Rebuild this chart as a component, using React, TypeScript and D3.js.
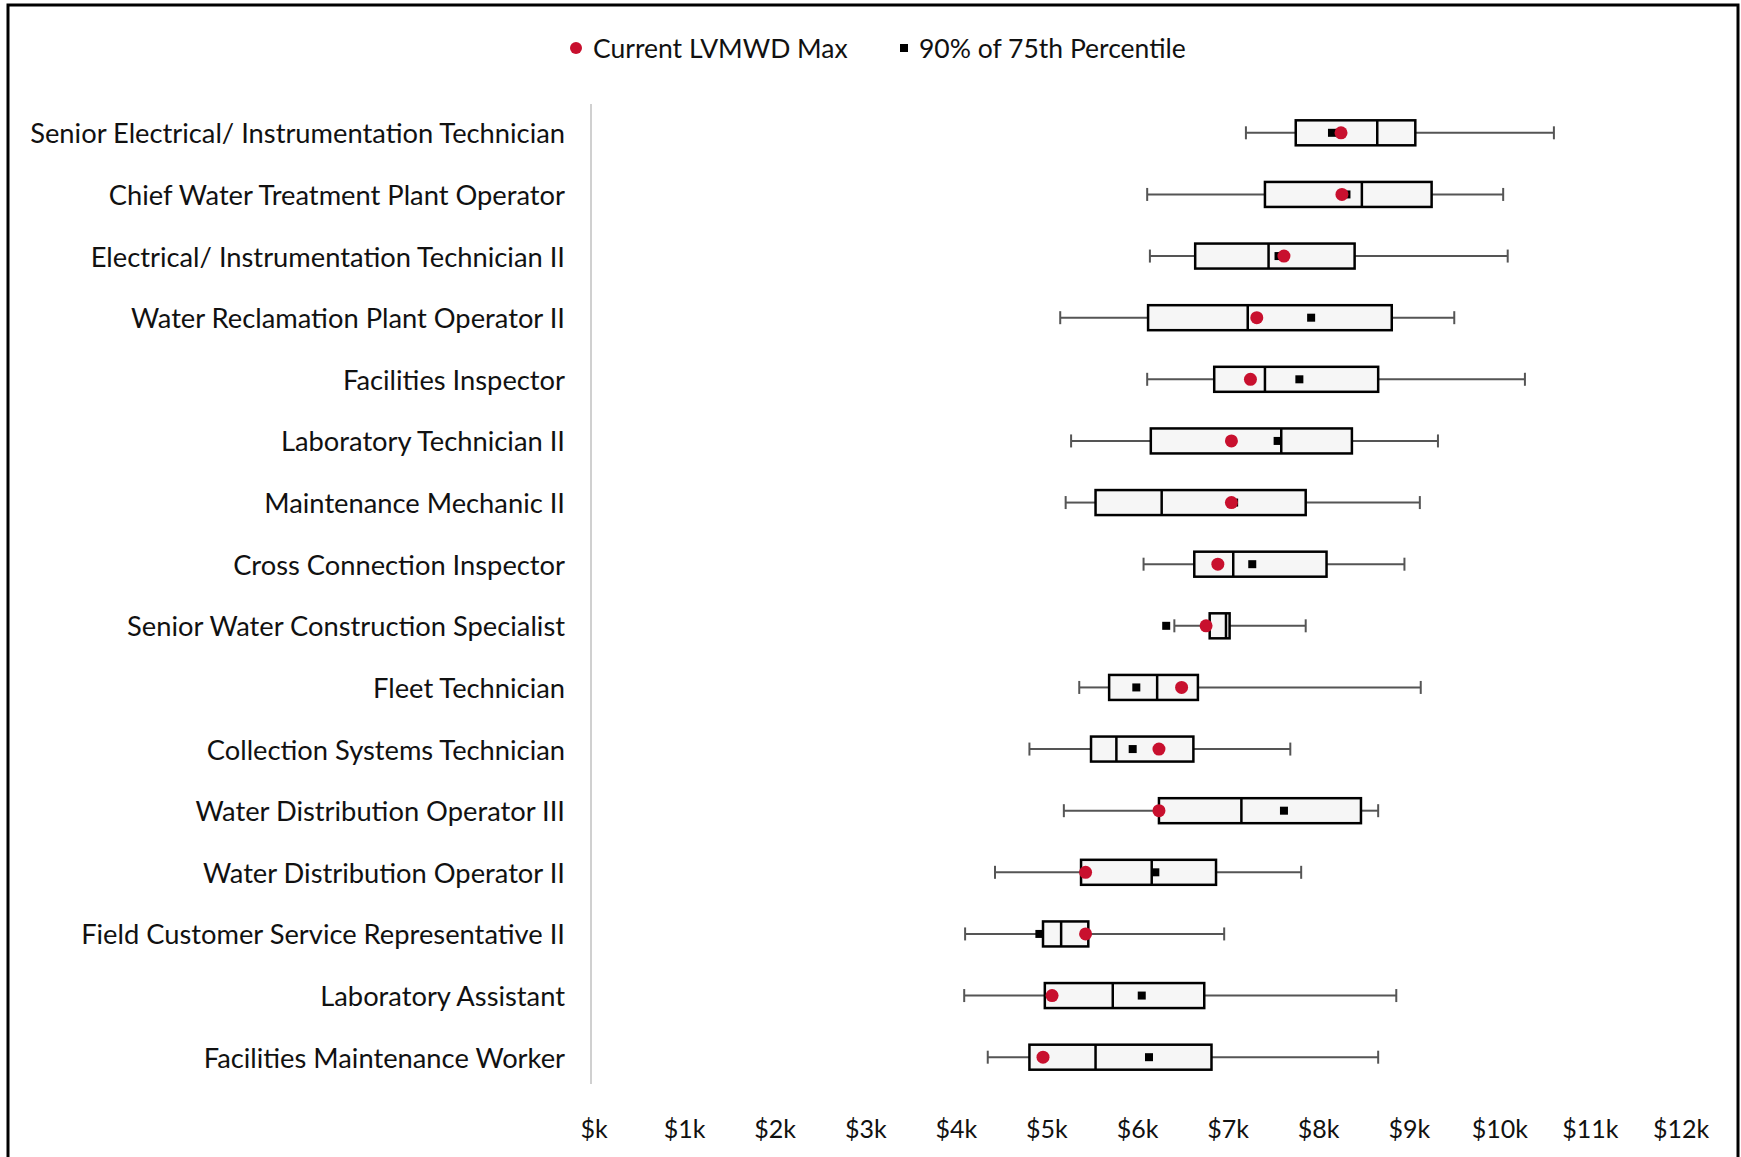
import React from "react";
import * as d3 from "d3";

const categories = [
  "Senior Electrical/ Instrumentation Technician",
  "Chief Water Treatment Plant Operator",
  "Electrical/ Instrumentation Technician II",
  "Water Reclamation Plant Operator II",
  "Facilities Inspector",
  "Laboratory Technician II",
  "Maintenance Mechanic II",
  "Cross Connection Inspector",
  "Senior Water Construction Specialist",
  "Fleet Technician",
  "Collection Systems Technician",
  "Water Distribution Operator III",
  "Water Distribution Operator II",
  "Field Customer Service Representative II",
  "Laboratory Assistant",
  "Facilities Maintenance Worker",
];

// values in $k
const whiskerLow = [7.23, 6.14, 6.17, 5.18, 6.14, 5.3, 5.24, 6.1, 6.44, 5.39, 4.84, 5.22, 4.46, 4.13, 4.12, 4.38];
const q1 = [7.78, 7.44, 6.67, 6.15, 6.88, 6.18, 5.57, 6.66, 6.83, 5.72, 5.52, 6.27, 5.41, 4.99, 5.01, 4.84];
const median = [8.68, 8.51, 7.48, 7.25, 7.44, 7.62, 6.3, 7.09, 7.01, 6.25, 5.8, 7.18, 6.19, 5.19, 5.76, 5.57];
const q3 = [9.1, 9.28, 8.43, 8.84, 8.69, 8.4, 7.89, 8.12, 7.05, 6.7, 6.65, 8.5, 6.9, 5.49, 6.77, 6.85];
const whiskerHigh = [10.63, 10.07, 10.12, 9.53, 10.31, 9.35, 9.15, 8.98, 7.89, 9.16, 7.72, 8.69, 7.84, 6.99, 8.89, 8.69];
const currentMax = [8.28, 8.29, 7.65, 7.35, 7.28, 7.07, 7.07, 6.92, 6.79, 6.52, 6.27, 6.27, 5.46, 5.46, 5.09, 4.99];
const pct90of75 = [8.18, 8.34, 7.59, 7.95, 7.82, 7.58, 7.1, 7.3, 6.35, 6.02, 5.98, 7.65, 6.23, 4.95, 6.08, 6.16];

const xTicks = [0, 1, 2, 3, 4, 5, 6, 7, 8, 9, 10, 11, 12];

const legendItems = ["Current LVMWD Max", "90% of 75th Percentile"];

const W = 1741;
const H = 1157;
const FONT = "Lato, 'Open Sans', sans-serif";
const RED = "#c8102e";

export default function App() {
  const x = d3.scaleLinear().domain([0, 12]).range([591, 1678]);
  const y = d3.scaleBand<string>().domain(categories).range([102, 1088]);
  const cy = (c: string) => (y(c) as number) + y.bandwidth() / 2;
  const boxH = 25;
  const capH = 13;

  return (
    <svg
      width={W}
      height={H}
      style={{ position: "absolute", left: 0, top: 0, background: "#fff" }}
      fontFamily={FONT}
    >
      <rect x={0} y={0} width={W} height={H} fill="#fff" />
      <rect x={8} y={5} width={1730} height={1160} fill="none" stroke="#000" strokeWidth={3} />

      {/* legend */}
      <g>
        <circle cx={576} cy={48} r={6} fill={RED} />
        <text x={593} y={48} dominantBaseline="central" fontSize={26.5} fill="#111">
          {legendItems[0]}
        </text>
        <rect x={900} y={44} width={8} height={8} fill="#000" />
        <text x={919} y={48} dominantBaseline="central" fontSize={26.5} fill="#111">
          {legendItems[1]}
        </text>
      </g>

      {/* y axis line */}
      <line x1={x(0)} x2={x(0)} y1={104} y2={1084} stroke="#d0d0d0" strokeWidth={2} />

      {/* category labels */}
      {categories.map((c) => (
        <text
          key={c}
          x={565}
          y={cy(c)}
          textAnchor="end"
          dominantBaseline="central"
          fontSize={27.3}
          fill="#111"
        >
          {c}
        </text>
      ))}

      {/* x tick labels */}
      {xTicks.map((t) => (
        <text
          key={t}
          x={x(t) + 3}
          y={1128}
          textAnchor="middle"
          dominantBaseline="central"
          fontSize={25}
          fill="#111"
        >
          {t === 0 ? "$k" : `$${t}k`}
        </text>
      ))}

      {/* boxes */}
      {categories.map((c, i) => {
        const yc = cy(c);
        return (
          <g key={c}>
            <line x1={x(whiskerLow[i])} x2={x(q1[i])} y1={yc} y2={yc} stroke="#555" strokeWidth={2} />
            <line x1={x(q3[i])} x2={x(whiskerHigh[i])} y1={yc} y2={yc} stroke="#555" strokeWidth={2} />
            <line x1={x(whiskerLow[i])} x2={x(whiskerLow[i])} y1={yc - capH / 2} y2={yc + capH / 2} stroke="#555" strokeWidth={2} />
            <line x1={x(whiskerHigh[i])} x2={x(whiskerHigh[i])} y1={yc - capH / 2} y2={yc + capH / 2} stroke="#555" strokeWidth={2} />
            <rect
              x={x(q1[i])}
              y={yc - boxH / 2}
              width={x(q3[i]) - x(q1[i])}
              height={boxH}
              fill="#f6f6f6"
              stroke="#000"
              strokeWidth={2.5}
            />
            <line x1={x(median[i])} x2={x(median[i])} y1={yc - boxH / 2} y2={yc + boxH / 2} stroke="#000" strokeWidth={2.5} />
            <rect x={x(pct90of75[i]) - 4} y={yc - 4} width={8} height={8} fill="#000" />
            <circle cx={x(currentMax[i])} cy={yc} r={6.5} fill={RED} />
          </g>
        );
      })}
    </svg>
  );
}
